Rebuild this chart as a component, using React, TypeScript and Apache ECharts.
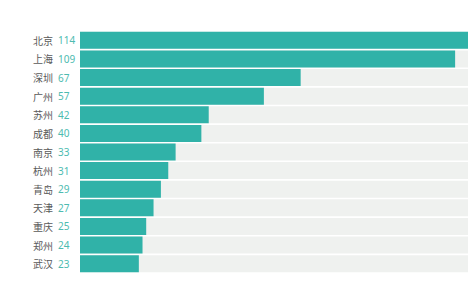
import React, { useEffect, useRef } from "react";
import * as echarts from "echarts";

const cities = ["北京", "上海", "深圳", "广州", "苏州", "成都", "南京", "杭州", "青岛", "天津", "重庆", "郑州", "武汉"];
const values = [114, 109, 67, 57, 42, 40, 33, 31, 29, 27, 25, 24, 23];
const axisMin = 7;
const axisMax = 112.5;

export default function App() {
  const ref = useRef<HTMLDivElement>(null);
  useEffect(() => {
    if (!ref.current) return;
    const chart = echarts.init(ref.current, null, { renderer: "svg" });
    chart.setOption({
      animation: false,
      backgroundColor: "#ffffff",
      grid: { left: 80, right: 0, top: 31, bottom: 12 },
      xAxis: {
        type: "value",
        min: axisMin,
        max: axisMax,
        show: false,
      },
      yAxis: {
        type: "category",
        data: cities,
        inverse: true,
        axisLine: { show: false },
        axisTick: { show: false },
        axisLabel: {
          align: "left",
          margin: 47,
          formatter: (v: string, i: number) => `{a|${v}}{b|${values[i]}}`,
          rich: {
            a: { width: 25, fontSize: 10, color: "#5a5a5a", fontFamily: "Noto Sans CJK SC" },
            b: { fontSize: 10, color: "#4dbbb0", fontFamily: "Noto Sans" },
          },
        },
      },
      series: [
        {
          type: "bar",
          data: cities.map(() => axisMax),
          barWidth: 17,
          barGap: "-100%",
          itemStyle: { color: "#eff1ef" },
          silent: true,
        },
        {
          type: "bar",
          data: values,
          barWidth: 17,
          clip: true,
          itemStyle: { color: "#30b2a8" },
        },
      ],
    });
    return () => chart.dispose();
  }, []);
  return <div ref={ref} style={{ width: 468, height: 285, position: "absolute", left: 0, top: 0 }} />;
}
